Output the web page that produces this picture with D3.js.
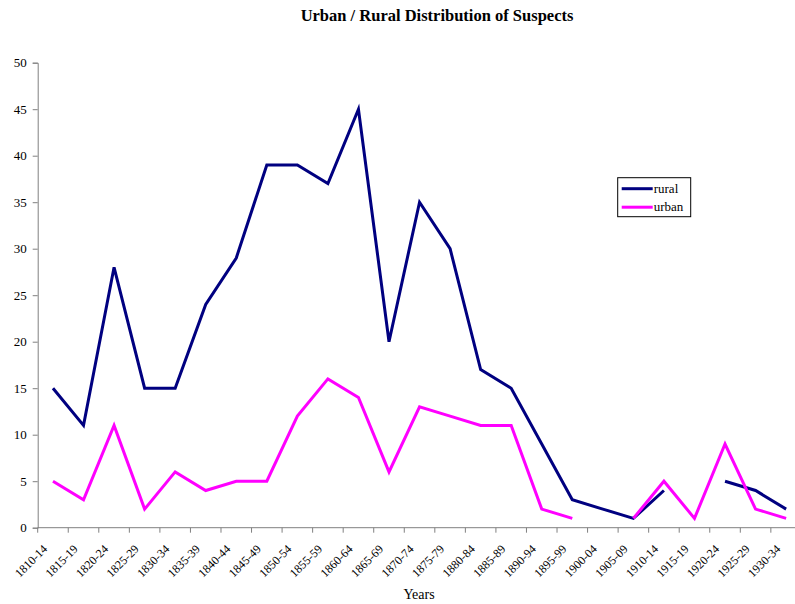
<!DOCTYPE html>
<html>
<head>
<meta charset="utf-8">
<script src="https://cdn.jsdelivr.net/npm/d3@7"></script>
<style>
  body { margin: 0; background: #fff; }
  svg, svg text { font-family: "Liberation Serif", "Times New Roman", serif; }
  svg { display: block; }
</style>
</head>
<body>
<div id="chart-area"></div>
<script>
// Data
const periods = ['1810-14', '1815-19', '1820-24', '1825-29', '1830-34', '1835-39', '1840-44',
  '1845-49', '1850-54', '1855-59', '1860-64', '1865-69', '1870-74', '1875-79', '1880-84',
  '1885-89', '1890-94', '1895-99', '1900-04', '1905-09', '1910-14', '1915-19', '1920-24',
  '1925-29', '1930-34']
const rural = [15, 11, 28, 15, 15, 24, 29, 39, 39, 37, 45, 20, 35, 30, 17, 15, 9, 3, 2, 1, 4, null, 5, 4, 2]
const urban = [5, 3, 11, 2, 6, 4, 5, 5, 12, 16, 14, 6, 13, 12, 11, 11, 2, 1, null, 1, 5, 1, 9, 2, 1]
const yTicks = [0, 5, 10, 15, 20, 25, 30, 35, 40, 45, 50]

// Sizing
const WIDTH = 795
const HEIGHT = 604
const PLOT = { LEFT: 37.7, RIGHT: 801.4, TOP: 62.7, BOTTOM: 527.7 }

const svg = d3.select('#chart-area').append('svg')
  .attr('width', WIDTH)
  .attr('height', HEIGHT)

const x = d3.scaleBand()
  .domain(periods)
  .range([PLOT.LEFT, PLOT.RIGHT])

const y = d3.scaleLinear()
  .domain([0, 50])
  .range([PLOT.BOTTOM, PLOT.TOP])

// title
svg.append('text')
  .attr('x', 437)
  .attr('y', 21)
  .attr('text-anchor', 'middle')
  .attr('font-size', '16.5px')
  .attr('font-weight', 'bold')
  .text('Urban / Rural Distribution of Suspects')

// y axis
const yAxis = svg.append('g')
  .attr('transform', `translate(${PLOT.LEFT}, 0)`)
  .call(d3.axisLeft(y).tickValues(yTicks).tickSize(5).tickPadding(6))
yAxis.attr('font-family', null).attr('font-size', null)
yAxis.selectAll('text').attr('font-size', '13px').attr('fill', '#000')
yAxis.select('.domain').attr('stroke', '#808080')
yAxis.selectAll('.tick line').attr('stroke', '#808080')

// x axis: ticks at category boundaries
const xAxis = svg.append('g')
  .attr('transform', `translate(0, ${PLOT.BOTTOM})`)
xAxis.append('line')
  .attr('x1', PLOT.LEFT).attr('x2', PLOT.RIGHT)
  .attr('stroke', '#808080')
xAxis.selectAll('.tick')
  .data(periods)
  .enter().append('line')
  .attr('x1', d => x(d)).attr('x2', d => x(d))
  .attr('y1', 0).attr('y2', 5)
  .attr('stroke', '#808080')
xAxis.selectAll('.lbl')
  .data(periods)
  .enter().append('text')
  .attr('transform', d => `translate(${x(d) + x.bandwidth() / 2 - 5}, 22) rotate(-45)`)
  .attr('text-anchor', 'end')
  .attr('font-size', '12px')
  .text(d => d)

// x-axis label
svg.append('text')
  .attr('x', 419)
  .attr('y', 599)
  .attr('text-anchor', 'middle')
  .attr('font-size', '14px')
  .text('Years')

// lines
const line = d3.line()
  .defined(d => d.v !== null)
  .x(d => x(d.p) + x.bandwidth() / 2)
  .y(d => y(d.v))

const series = [
  { name: 'rural', values: rural, color: '#000080' },
  { name: 'urban', values: urban, color: '#ff00ff' }
]

series.forEach(s => {
  svg.append('path')
    .datum(periods.map((p, i) => ({ p: p, v: s.values[i] })))
    .attr('fill', 'none')
    .attr('stroke', s.color)
    .attr('stroke-width', 3)
    .attr('stroke-linejoin', 'miter')
    .attr('d', line)
})

// legend
const legend = svg.append('g')
  .attr('transform', 'translate(617.7, 177.7)')
legend.append('rect')
  .attr('width', 73)
  .attr('height', 39)
  .attr('fill', '#fff')
  .attr('stroke', '#000')
  .attr('stroke-width', 1)
series.forEach((s, i) => {
  const ly = 11 + i * 18.5
  legend.append('line')
    .attr('x1', 4).attr('x2', 35)
    .attr('y1', ly).attr('y2', ly)
    .attr('stroke', s.color)
    .attr('stroke-width', 3)
  legend.append('text')
    .attr('x', 36)
    .attr('y', ly + 4)
    .attr('font-size', '13px')
    .text(s.name)
})
</script>
</body>
</html>
